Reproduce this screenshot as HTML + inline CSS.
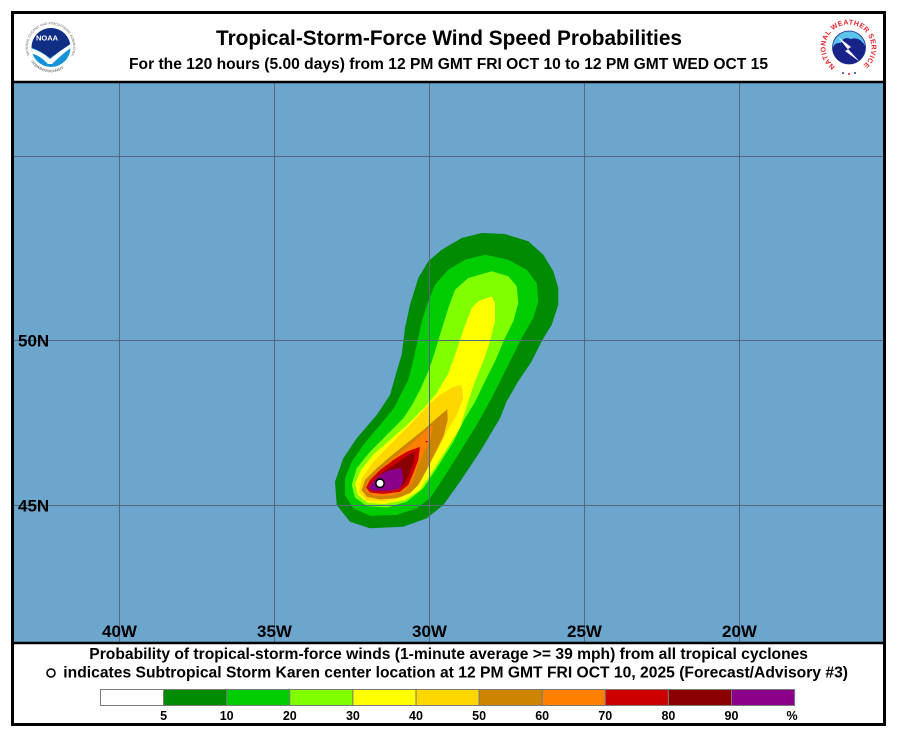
<!DOCTYPE html>
<html><head><meta charset="utf-8"><style>
html,body{margin:0;padding:0;background:#fff;}
svg{display:block;}
text{font-family:"Liberation Sans",Arial,sans-serif;font-weight:bold;fill:#000;}
</style></head><body>
<svg width="897" height="738" viewBox="0 0 897 738" xmlns="http://www.w3.org/2000/svg">
<rect x="0" y="0" width="897" height="738" fill="#fff"/>
<!-- map -->
<rect x="14" y="83" width="869" height="559" fill="#6CA6CD"/>
<!-- storm contours -->
<g stroke="none">
<polygon fill="#008B00" points="441.7,249.7 461.7,238 481.7,233 505,234 528.3,241.3 543.3,254.7 553.3,271.3 558.3,288 558.3,304.7 551.7,324.7 541.7,341.3 531.7,361.3 518.3,381.3 506.7,401.3 500,418.3 480,451.7 460,481.7 443.3,505 426.7,518.3 403.3,526.7 370,528.3 350,521.7 336.7,505 335,481.7 343.3,458.3 356.7,438.3 376.7,415 390,395 396.7,371.3 401.7,354.7 405,328 410,304.7 418.3,278 428.3,261.3"/>
<polygon fill="#00CD00" points="465,259.7 485,254.7 508.3,259.7 526.7,269.7 536.7,283 538.3,301.3 533.3,318 521.7,338 511.7,358 501.7,378 491.7,398 476.7,425 460,451.7 443.3,478.3 430,498.3 416.7,508.3 396.7,515 370,515.7 353.3,508.3 345,495 345,478.3 351.7,461.7 363.3,445 380,425 394,408 402,392 408.3,380 413,361.3 418.3,338 421.7,321.3 428.3,301.3 435,284.7 448.3,269.7"/>
<polygon fill="#7FFF00" points="468.3,278 491.7,271.3 508.3,276.3 516.7,286.3 518.3,303 513.3,321.3 505,338 495,361.3 485,381.3 475,402 464,420 453.3,441.7 436.7,468.3 423.3,488.3 406.7,501.7 386.7,507.5 366.7,506 355,497.5 351.7,485 356.7,468.3 370,451.7 386.7,435 403.3,418.3 412,405 420,390 428.3,371.3 434,354.7 440,334.7 448.3,308 455,289.7"/>
<polygon fill="#FFFF00" points="478.3,301.3 491.7,296.3 495,303 495,321.3 490,341.3 483.3,361.3 475,381.3 468.3,401.3 460,428 446,450 432,472 420,490 405,500 385,504 368,503 358,495 355,484 361,470 373,455 390,440 408,424 424,408 436,394 448,374 456,352 464,328 471.7,308"/>
<polygon fill="#FFD700" points="461.7,385 463.3,398.3 456.7,415 446.7,431.7 436.7,451.7 426.7,468.3 416.7,485 403.3,496.7 383.3,501.5 366.7,500.5 359,492 361.7,478.3 373.3,461.7 390,445 410,425 426.7,406.7 440,395 453.3,386.7"/>
<polygon fill="#CD8500" points="447.3,409.3 447.7,420 443.3,436.7 435,453.3 426.7,470 418.3,485 410,493.3 396.7,498.3 380,499.5 366.7,496.7 361.7,490 365,480 376.7,468.3 390,456.7 406.7,443.3 423.3,430 438.3,416.7"/>
<polygon fill="#FF7F00" points="433.3,425 430,440 423.3,453.3 416.7,470 411.7,483.3 403.3,491.7 390,496 373.3,496 365,490 366.7,483.3 376.7,471.7 393.3,458.3 410,445 426.7,430"/>
<polygon fill="#CD0000" points="420,446.7 418.3,460 413.3,473.3 408.3,485 400,491.7 383.3,494 370,492.5 366,487.5 370,480 380,470 393.3,460 406.7,451.7"/>
<polygon fill="#8B0000" points="415,451.7 413.3,463.3 408.3,476.7 403.3,485.5 393.3,489.5 376.7,491 369,489 373.3,481.7 383.3,471.7 396.7,463.3 408.3,455"/>
<polygon fill="#8B008B" points="401.7,468.3 403.3,480 400,488.3 390,490.7 373.3,490.7 368.3,488.3 371.7,483.3 380,475 390,470"/>
<rect x="425.5" y="441" width="2.5" height="1.2" fill="#CD0000"/>
</g>
<!-- grid -->
<g stroke="#56697A" stroke-width="1" fill="none">
<line x1="119.5" y1="83" x2="119.5" y2="642"/>
<line x1="274.5" y1="83" x2="274.5" y2="642"/>
<line x1="429.5" y1="83" x2="429.5" y2="642"/>
<line x1="584.5" y1="83" x2="584.5" y2="642"/>
<line x1="739.5" y1="83" x2="739.5" y2="642"/>
<line x1="14" y1="156.5" x2="883" y2="156.5"/>
<line x1="14" y1="340.5" x2="883" y2="340.5"/>
<line x1="14" y1="505.5" x2="883" y2="505.5"/>
</g>
<circle cx="380" cy="483.3" r="4.2" fill="#fff" stroke="#000" stroke-width="1.6"/>
<!-- lat/lon labels -->
<g font-size="17">
<text x="18" y="346.5">50N</text>
<text x="18" y="511.5">45N</text>
<text x="119.5" y="637" text-anchor="middle">40W</text>
<text x="274.5" y="637" text-anchor="middle">35W</text>
<text x="429.5" y="637" text-anchor="middle">30W</text>
<text x="584.5" y="637" text-anchor="middle">25W</text>
<text x="739.5" y="637" text-anchor="middle">20W</text>
</g>
<!-- frame -->
<line x1="13" y1="82" x2="884" y2="82" stroke="#000" stroke-width="2.5"/>
<line x1="13" y1="643" x2="884" y2="643" stroke="#000" stroke-width="2.5"/>
<rect x="12.5" y="12.5" width="872" height="712" fill="none" stroke="#000" stroke-width="3"/>
<!-- header text -->
<text x="216" y="45" font-size="21" textLength="466" lengthAdjust="spacingAndGlyphs">Tropical-Storm-Force Wind Speed Probabilities</text>
<text x="129" y="69" font-size="15.6" textLength="639" lengthAdjust="spacingAndGlyphs">For the 120 hours (5.00 days) from 12 PM GMT FRI OCT 10 to 12 PM GMT WED OCT 15</text>
<!-- NOAA logo -->
<g>
<circle cx="50.5" cy="47.5" r="26" fill="#fff"/>
<defs>
<path id="noaaTop" d="M 29.5 55 A 22.5 22.5 0 1 1 71.5 55"/>
<path id="noaaBot" d="M 31 61 A 22.5 22.5 0 0 0 70 61"/>
<path id="nwsArc" d="M 835.3 66.3 A 23 23 0 1 1 861.7 66.3"/>
<clipPath id="noaaClip"><circle cx="51" cy="47.5" r="19.5"/></clipPath>
<clipPath id="nwsClip"><circle cx="849" cy="47.5" r="16.5"/></clipPath>
</defs>
<text font-size="3.4" style="fill:#666;font-weight:normal"><textPath href="#noaaTop" textLength="95">NATIONAL OCEANIC AND ATMOSPHERIC ADMINISTRATION</textPath></text>
<text font-size="3.4" style="fill:#666;font-weight:normal"><textPath href="#noaaBot" textLength="38">U.S. DEPARTMENT OF COMMERCE</textPath></text>
<g clip-path="url(#noaaClip)">
<rect x="30" y="27" width="42" height="42" fill="#1493D6"/>
<path d="M 30 27 L 72 27 L 72 43 Q 61 50 50 58 Q 40 50 30 47 Z" fill="#102E84"/>
<path d="M 30 48 Q 41 51 50 59 Q 61 50 72 43 L 72 47 Q 62 54 52 64 L 48 64 Q 40 55 30 53 Z" fill="#fff"/>
</g>
<text x="47" y="40.5" font-size="7.5" text-anchor="middle" style="fill:#fff">NOAA</text>
</g>
<!-- NWS logo -->
<g>
<circle cx="849" cy="47.5" r="29" fill="#fff"/>
<text font-size="7" style="fill:#E8202A"><textPath href="#nwsArc" textLength="114" lengthAdjust="spacing">NATIONAL WEATHER SERVICE</textPath></text>
<circle cx="843" cy="73" r="1" fill="#2A3A9A"/>
<circle cx="849" cy="74" r="1" fill="#E8202A"/>
<circle cx="855" cy="73" r="1" fill="#2A3A9A"/>
<g clip-path="url(#nwsClip)">
<rect x="832" y="30" width="34" height="35" fill="#5CC3EC"/>
<path d="M 832 52 Q 833 42 841 43 Q 843 36 851 39 Q 858 37 862 42 Q 867 46 866 54 L 866 65 L 832 65 Z" fill="#18238A"/>
<path d="M 838 37 L 851 47 L 848 49 L 860 62 L 845 51 L 848 49.5 Z" fill="#fff"/>
</g>
<circle cx="849" cy="47.5" r="16.5" fill="none" stroke="#18238A" stroke-width="0.8"/>
</g>
<!-- footer -->
<text x="89.3" y="659" font-size="15.6" textLength="718.7" lengthAdjust="spacingAndGlyphs">Probability of tropical-storm-force winds (1-minute average &gt;= 39 mph) from all tropical cyclones</text>
<circle cx="51" cy="673" r="4" fill="none" stroke="#000" stroke-width="1.6"/>
<text x="63.3" y="677.5" font-size="15.6" textLength="784.7" lengthAdjust="spacingAndGlyphs">indicates Subtropical Storm Karen center location at 12 PM GMT FRI OCT 10, 2025 (Forecast/Advisory #3)</text>
<!-- colorbar -->
<g stroke="#7A7A7A" stroke-width="1">
<rect x="100.5" y="689.5" width="63.1" height="16" fill="#FFFFFF"/>
<rect x="163.6" y="689.5" width="63.1" height="16" fill="#008B00"/>
<rect x="226.7" y="689.5" width="63.1" height="16" fill="#00CD00"/>
<rect x="289.8" y="689.5" width="63.1" height="16" fill="#7FFF00"/>
<rect x="352.9" y="689.5" width="63.1" height="16" fill="#FFFF00"/>
<rect x="416" y="689.5" width="63.1" height="16" fill="#FFD700"/>
<rect x="479.1" y="689.5" width="63.1" height="16" fill="#CD8500"/>
<rect x="542.2" y="689.5" width="63.1" height="16" fill="#FF7F00"/>
<rect x="605.3" y="689.5" width="63.1" height="16" fill="#CD0000"/>
<rect x="668.4" y="689.5" width="63.1" height="16" fill="#8B0000"/>
<rect x="731.5" y="689.5" width="63.1" height="16" fill="#8B008B"/>
</g>
<g font-size="12.5" text-anchor="middle">
<text x="163.6" y="720">5</text>
<text x="226.7" y="720">10</text>
<text x="289.8" y="720">20</text>
<text x="352.9" y="720">30</text>
<text x="416" y="720">40</text>
<text x="479.1" y="720">50</text>
<text x="542.2" y="720">60</text>
<text x="605.3" y="720">70</text>
<text x="668.4" y="720">80</text>
<text x="731.5" y="720">90</text>
<text x="792" y="720">%</text>
</g>
</svg>
</body></html>
